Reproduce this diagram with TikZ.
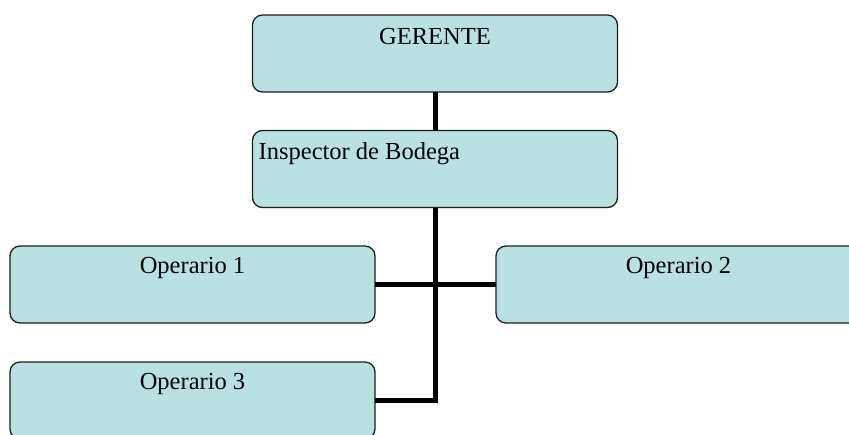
\documentclass[tikz,border=0pt]{standalone}
\usepackage{fontspec}
\setmainfont{Liberation Serif}
\definecolor{boxfill}{RGB}{185,224,226}
\definecolor{boxline}{RGB}{30,30,30}
\tikzset{
  orgbox/.style={draw=boxline, line width=1.3pt, fill=boxfill, rounded corners=10pt,
    minimum width=365pt, minimum height=77pt, inner sep=0pt, outer sep=0pt},
  orgtext/.style={font=\fontsize{24.5}{28}\selectfont, inner sep=0pt},
  conn/.style={line width=5pt, draw=black}
}
\begin{document}
\begin{tikzpicture}[x=1pt,y=-1pt]
\path[use as bounding box, clip] (0,0) rectangle (849,434);
\fill[white] (0,0) rectangle (849,434);
% connectors
\coordinate (trunk) at (435,0);
\node[orgbox] (g) at (435,53.5) {};
\node[orgbox] (i) at (435,169) {};
\node[orgbox] (o1) at (192.5,284.5) {};
\node[orgbox] (o2) at (678.5,284.5) {};
\node[orgbox] (o3) at (192.5,400.5) {};
\draw[conn] (g.south) -- (i.north);
\draw[conn] (i.south) |- (o3.east);
\draw[conn] (o1.east) -- (o2.west);
% texts
\node[orgtext, anchor=base] (gt) at ([yshift=-29pt]g.north) {GERENTE};
\node[orgtext, anchor=base west] (it) at ([xshift=6pt,yshift=-29pt]i.north west) {Inspector de Bodega};
\node[orgtext, anchor=base] (o1t) at ([yshift=-27pt]o1.north) {Operario 1};
\node[orgtext, anchor=base] (o2t) at ([yshift=-27pt]o2.north) {Operario 2};
\node[orgtext, anchor=base] (o3t) at ([yshift=-27pt]o3.north) {Operario 3};
\end{tikzpicture}
\end{document}
